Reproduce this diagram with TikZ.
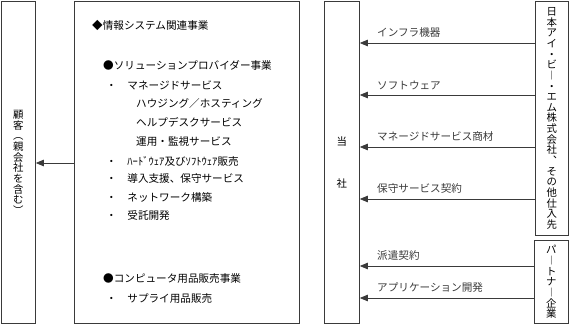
\documentclass[tikz,border=0pt]{standalone}
\usepackage{fontspec}
\newfontfamily\jpfont{Noto Sans CJK JP}
\usetikzlibrary{arrows.meta,positioning}
\definecolor{ink}{HTML}{3a3a3a}
\newcommand\vfont{\jpfont\fontsize{10.4}{10.65}\selectfont\lineskiplimit=-5pt\relax}
\tikzset{frm/.style={draw=ink, line width=0.8pt, inner sep=0pt, anchor=north west, align=center, font=\vfont},
         txt/.style={anchor=west, inner sep=0pt, font=\jpfont\fontsize{10.6}{12}\selectfont},
         lbl/.style={anchor=south west, inner sep=0pt, xshift=17pt, yshift=5pt, font=\jpfont\fontsize{10.6}{12}\selectfont},
         arr/.style={-{Triangle[length=8pt, width=6.5pt]}, line width=0.8pt, ink}}

\begin{document}
\begin{tikzpicture}[x=1pt, y=-1pt]
\useasboundingbox (0,0) rectangle (569,324);
\node[frm, minimum width=34pt, minimum height=322pt] (cust) at (1,1) {顧\\客\\︵\\親\\会\\社\\を\\含\\む\\︶};
\node[frm, minimum width=225pt, minimum height=322pt] (biz) at (74,1) {};
\node[frm, minimum width=35pt, minimum height=322pt] (corp) at (324,1) {当\\[31pt]社};
\node[frm, minimum width=33pt, minimum height=234pt] (sup) at (535,1) {日\\本\\ア\\イ\\・\\ビ\\︱\\・\\エ\\ム\\株\\式\\会\\社\\︑\\そ\\の\\他\\仕\\入\\先};
\node[frm, minimum width=34pt, minimum height=83pt] (ptn) at (534,240) {パ\\︱\\ト\\ナ\\︱\\企\\業};
% business lines
\foreach \x/\y/\t [count=\i] in {92/25/◆情報システム関連事業, 103/65/●ソリューションプロバイダー事業,
    106/85/・　マネージドサービス, 136/103/ハウジング／ホスティング, 136/122/ヘルプデスクサービス,
    136/141/運用・監視サービス, 106/161/・　ﾊｰﾄﾞｳｪｱ及びｿﾌﾄｳｪｱ販売, 106/178/・　導入支援、保守サービス,
    106/197/・　ネットワーク構築, 106/215/・　受託開発, 103/278/●コンピュータ用品販売事業,
    106/298/・　サプライ用品販売}
  \node[txt] (m\i) at (\x,\y) {\t};
% flows
\draw[arr] (biz.west |- 0,163) -- (cust.east |- 0,163);
\foreach \y/\t [count=\i] in {43/インフラ機器, 95/ソフトウェア, 147/マネージドサービス商材, 199/保守サービス契約}
  \draw[arr] (sup.west |- 0,\y) -- (corp.east |- 0,\y) node[lbl] (s\i) {\t};
\foreach \y/\t [count=\i] in {266/派遣契約, 298/アプリケーション開発}
  \draw[arr] (ptn.west |- 0,\y) -- (corp.east |- 0,\y) node[lbl] (p\i) {\t};
\end{tikzpicture}
\end{document}
